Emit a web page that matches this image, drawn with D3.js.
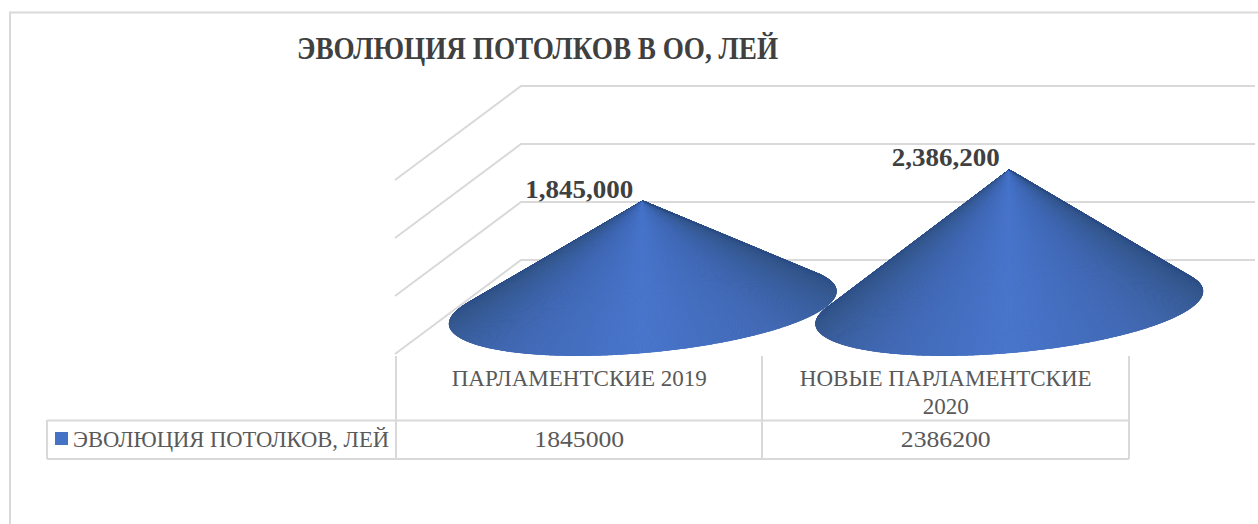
<!DOCTYPE html>
<html>
<head>
<meta charset="utf-8">
<script src="https://cdn.jsdelivr.net/npm/d3@7"></script>
<style>
    html, body { margin: 0; padding: 0; background: #fff; }
    svg { display: block; }
    text { font-family: "Liberation Serif", serif; }
</style>
</head>
<body>
<svg id="chart" width="1258" height="524"></svg>
<script>
const title = 'ЭВОЛЮЦИЯ ПОТОЛКОВ В ОО, ЛЕЙ';
const seriesName = 'ЭВОЛЮЦИЯ ПОТОЛКОВ, ЛЕЙ';
const categories = ['ПАРЛАМЕНТСКИЕ 2019', 'НОВЫЕ ПАРЛАМЕНТСКИЕ 2020'];
const categoryLines = [['ПАРЛАМЕНТСКИЕ 2019'], ['НОВЫЕ ПАРЛАМЕНТСКИЕ', '2020']];
const values = [1845000, 2386200];
const gridTicks = [0, 1000000, 2000000, 3000000];

const gridColor = '#d9d9d9';
const textColor = '#595959';
const labelColor = '#404040';

const svg = d3.select('#chart');

// Liberation runs wider than the original face, so squeeze the glyphs a bit
function squeeze(selection, factor) {
    selection
        .attr('textLength', selection.node().getComputedTextLength() * factor)
        .attr('lengthAdjust', 'spacingAndGlyphs');
    return selection;
}

// frame of the chart area, open to the right and the bottom
svg.append('path')
    .attr('d', 'M10,524V12.5H1258')
    .attr('fill', 'none')
    .attr('stroke', gridColor)
    .attr('stroke-width', 2);

svg.append('text')
    .attr('x', 297)
    .attr('y', 59)
    .attr('textLength', 481)
    .attr('lengthAdjust', 'spacingAndGlyphs')
    .attr('font-size', 32)
    .attr('font-weight', 'bold')
    .attr('fill', labelColor)
    .text(title);

// 3D box: x across the categories, depth is the slanted floor offset
const x = d3.scaleBand().domain(categories).range([396, 1129]);
const depth = {x: 126, y: -94};
const floorY = 354;

const yFront = d3.scaleLinear().domain([0, 3000000]).range([floorY, 180]);
const yBase = d3.scaleLinear().domain([0, 3000000]).range([floorY + depth.y / 2, 134]);

const grid = svg.append('g')
    .attr('fill', 'none')
    .attr('stroke', gridColor)
    .attr('stroke-width', 2);

gridTicks.forEach((tick) => {
    const y = yFront(tick);
    grid.append('path')
        .attr('d', `M395,${y}L${395 + depth.x},${y + depth.y}H1255`);
});

// data table under the plot
const table = svg.append('g')
    .attr('fill', 'none')
    .attr('stroke', gridColor)
    .attr('stroke-width', 2);

table.append('path').attr('d', 'M47,420.5H1129M47,459H1129M47,420V459');
[396, 762, 1129].forEach((lineX) => {
    table.append('path').attr('d', `M${lineX},356V459`);
});

categories.forEach((category, i) => {
    const center = x(category) + x.bandwidth() / 2;
    categoryLines[i].forEach((line, j) => {
        squeeze(svg.append('text')
            .attr('x', center)
            .attr('y', 386 + j * 28)
            .attr('text-anchor', 'middle')
            .attr('font-size', 24)
            .attr('fill', textColor)
            .text(line), 0.96);
    });
    squeeze(svg.append('text')
        .attr('x', center)
        .attr('y', 447)
        .attr('text-anchor', 'middle')
        .attr('font-size', 24)
        .attr('fill', textColor)
        .text(values[i]), 1.07);
});

svg.append('rect')
    .attr('x', 55)
    .attr('y', 432)
    .attr('width', 13)
    .attr('height', 13)
    .attr('fill', '#4472c4');

svg.append('text')
    .attr('x', 73)
    .attr('y', 447)
    .attr('textLength', 316)
    .attr('lengthAdjust', 'spacingAndGlyphs')
    .attr('font-size', 24)
    .attr('fill', textColor)
    .text(seriesName);

// cones: a fan of thin triangles from the tip to the visible part of the base ellipse
const shade = d3.scaleLinear()
    .domain([0, 0.12, 0.32, 0.5, 1])
    .range(['#2c4d86', '#36598f', '#4068b4', '#4875cb', '#4875cb'])
    .interpolate(d3.interpolateRgb);

function drawCone(parent, category, value, index) {
    const cx = x(category) + x.bandwidth() / 2 + depth.x / 2 + 0.5;
    const cy = yBase(0) + 0.5;
    const tip = [cx, yBase(value)];
    const ux = x.bandwidth() / 2 - 0.5;
    const vx = depth.x / 2 + 2;
    const vy = depth.y / 2 - 1.5;

    const point = t => [cx + ux * Math.cos(t) + vx * Math.sin(t), cy + vy * Math.sin(t)];
    const facing = (t) => {
        const p = point(t);
        const dx = -ux * Math.sin(t) + vx * Math.cos(t);
        const dy = vy * Math.cos(t);
        return (p[0] - tip[0]) * dy - (p[1] - tip[1]) * dx;
    };

    // walk both ways from the front of the ellipse until the surface turns away
    const start = -Math.PI / 2;
    const step = Math.PI / 360;
    const sign = Math.sign(facing(start));
    let t0 = start;
    let t1 = start;
    while (Math.sign(facing(t0 - step)) === sign) { t0 -= step; }
    while (Math.sign(facing(t1 + step)) === sign) { t1 += step; }

    const arc = d3.range(t0, t1 + step / 2, step).map(point);
    const clipId = `cone-clip-${index}`;

    parent.append('clipPath')
        .attr('id', clipId)
        .append('path')
        .attr('d', `M${tip}L${arc.join('L')}Z`);

    const cone = parent.append('g').attr('clip-path', `url(#${clipId})`);
    for (let i = 0; i < arc.length - 1; i += 1) {
        const s = i / (arc.length - 2);
        const color = shade(Math.min(s, 1 - s));
        cone.append('path')
            .attr('d', `M${tip}L${arc[i]}L${arc[i + 1]}Z`)
            .attr('fill', color)
            .attr('stroke', color)
            .attr('stroke-width', 1);
    }
}

const cones = svg.append('g');
categories.forEach((category, i) => drawCone(cones, category, values[i], i));

// data labels sit up and to the left of each tip
const formatLabel = d3.format(',');
categories.forEach((category, i) => {
    svg.append('text')
        .attr('x', x(category) + x.bandwidth() / 2)
        .attr('y', yBase(values[i]) - 3)
        .attr('text-anchor', 'middle')
        .attr('textLength', 108)
        .attr('lengthAdjust', 'spacingAndGlyphs')
        .attr('font-size', 26)
        .attr('font-weight', 'bold')
        .attr('fill', labelColor)
        .text(formatLabel(values[i]));
});
</script>
</body>
</html>
